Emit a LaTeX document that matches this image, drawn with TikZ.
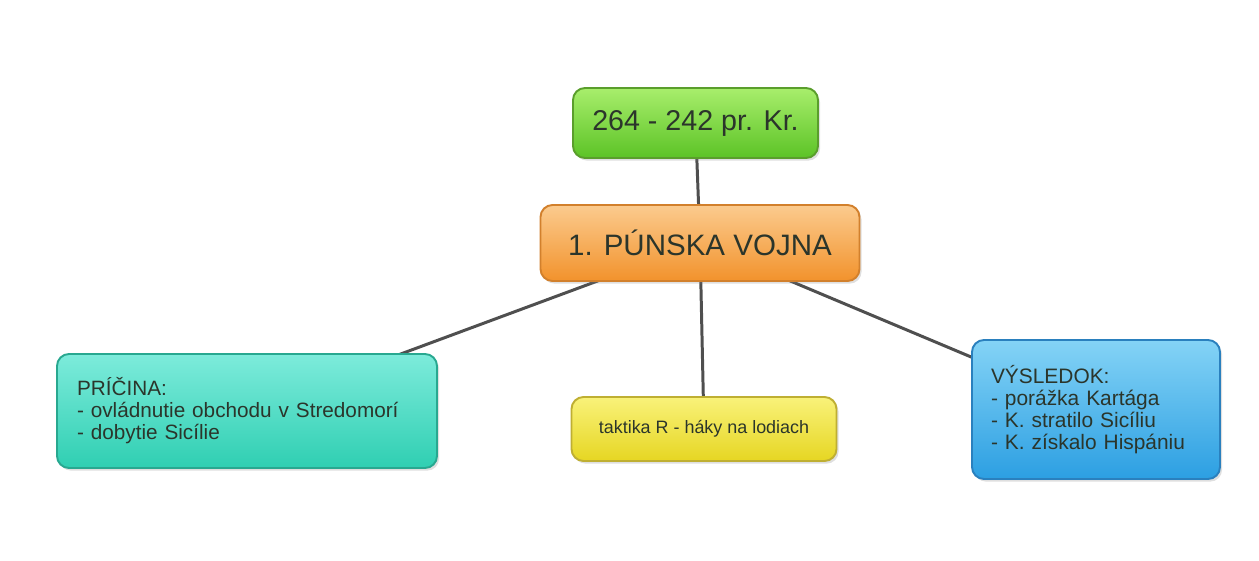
\documentclass[tikz,border=0pt]{standalone}
\usepackage{fontspec}
\setmainfont{Liberation Sans}
\usetikzlibrary{backgrounds,shadows}
\definecolor{txt}{HTML}{2B352B}
\definecolor{lineC}{HTML}{4F4F4F}
\definecolor{gTop}{HTML}{A8EE6C}\definecolor{gBot}{HTML}{5CC326}\definecolor{gBrd}{HTML}{5A9E2C}
\definecolor{oTop}{HTML}{FBCB8E}\definecolor{oBot}{HTML}{F2922C}\definecolor{oBrd}{HTML}{D2802C}
\definecolor{tTop}{HTML}{7DEBDB}\definecolor{tBot}{HTML}{2FCFB2}\definecolor{tBrd}{HTML}{28A890}
\definecolor{yTop}{HTML}{F9F27A}\definecolor{yBot}{HTML}{E6D622}\definecolor{yBrd}{HTML}{BFAF32}
\definecolor{bTop}{HTML}{84D3F6}\definecolor{bBot}{HTML}{2C9FE2}\definecolor{bBrd}{HTML}{2A80BE}
\tikzset{
  box/.style={draw, line width=1.1pt, rounded corners=0.24cm, inner sep=0pt,
    text=txt, drop shadow={opacity=0.25, shadow xshift=1.2pt, shadow yshift=-1.5pt}},
  conn/.style={draw=lineC, line width=1.7pt},
}
\begin{document}
\begin{tikzpicture}[x=0.02cm,y=-0.02cm]
\useasboundingbox (0,0) rectangle (1259,561);
\node[box, draw=gBrd, top color=gTop, bottom color=gBot,
  minimum width=245*0.02cm, minimum height=70*0.02cm,
  font=\fontsize{16.3}{19}\selectfont] (date) at (695.5,123) {264 - 242 pr. Kr.};
\node[box, draw=oBrd, top color=oTop, bottom color=oBot,
  minimum width=319*0.02cm, minimum height=76*0.02cm,
  font=\fontsize{16.8}{19}\selectfont] (main) at (700,243) {1. PÚNSKA VOJNA};
\node[box, draw=tBrd, top color=tTop, bottom color=tBot,
  minimum width=380*0.02cm, minimum height=114*0.02cm,
  text width=340*0.02cm, align=left,
  font=\fontsize{11.8}{12.5}\selectfont] (cause) at (247,411) {PRÍČINA:\\- ovládnutie obchodu v Stredomorí\\- dobytie Sicílie};
\node[box, draw=yBrd, top color=yTop, bottom color=yBot,
  minimum width=265*0.02cm, minimum height=64*0.02cm,
  font=\fontsize{10.2}{12}\selectfont] (tactic) at (704,429) {taktika R - háky na lodiach};
\node[box, draw=bBrd, top color=bTop, bottom color=bBot,
  minimum width=248*0.02cm, minimum height=139*0.02cm,
  text width=210*0.02cm, align=left,
  font=\fontsize{11.9}{12.5}\selectfont] (result) at (1096,409.5) {VÝSLEDOK:\\- porážka Kartága\\- K. stratilo Sicíliu\\- K. získalo Hispániu};
\begin{pgfonlayer}{background}
\draw[conn] (date.center) -- (main.center);
\draw[conn] (main.center) -- (cause.center);
\draw[conn] (main.center) -- (tactic.center);
\draw[conn] (main.center) -- (result.center);
\end{pgfonlayer}
\end{tikzpicture}
\end{document}
